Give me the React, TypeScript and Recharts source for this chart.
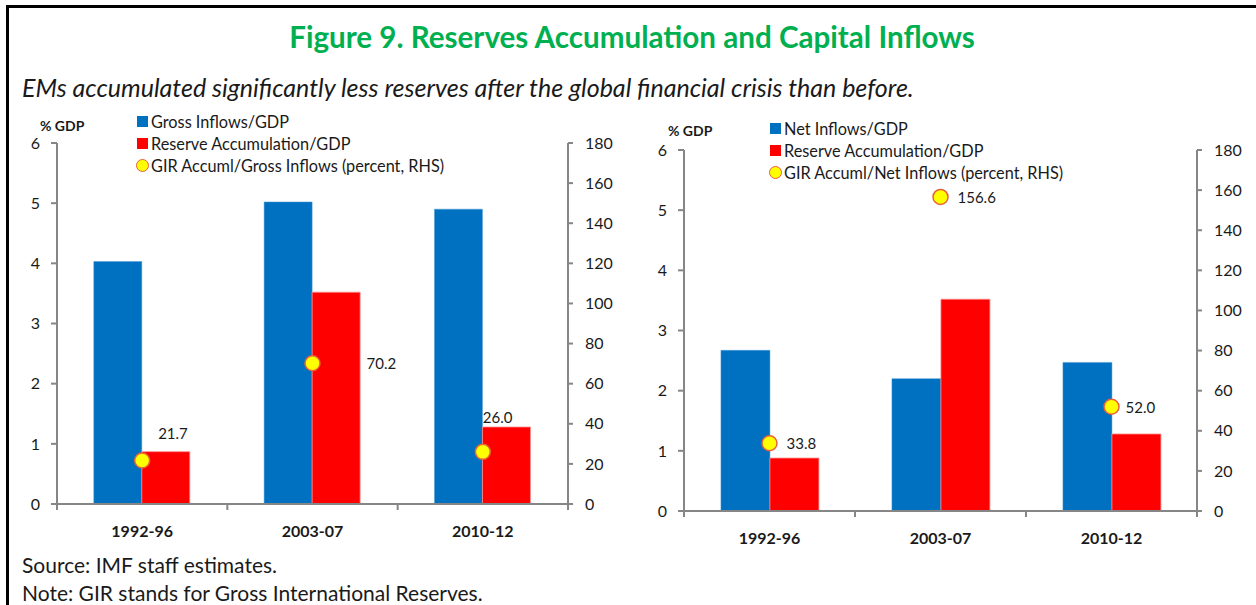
import { Bar, ComposedChart, Scatter, XAxis, YAxis } from "recharts";

const periods = ["1992-96", "2003-07", "2010-12"];

// left panel
const grossInflows = [4.03, 5.02, 4.9];
const reserveAccumGross = [0.87, 3.52, 1.28];
const girGross = [21.7, 70.2, 26.0];

// right panel
const netInflows = [2.67, 2.2, 2.47];
const reserveAccumNet = [0.88, 3.52, 1.28];
const girNet = [33.8, 156.6, 52.0];

const gdpTicks = [0, 1, 2, 3, 4, 5, 6];
const pctTicks = [0, 20, 40, 60, 80, 100, 120, 140, 160, 180];

const FONT = "Lato, 'Open Sans', sans-serif";
const BLUE = "#0070C0";
const RED = "#FF0000";
const AXIS = "#868686";
const TEXT = "#1a1a1a";

function LegendBox({ items, left, top }: { items: string[]; left: number; top: number }) {
  return (
    <div style={{ position: "absolute", left, top, fontFamily: FONT, fontSize: 16.3, color: TEXT }}>
      {items.map((name, i) => (
        <div key={name} style={{ display: "flex", alignItems: "center", height: 22, whiteSpace: "nowrap" }}>
          {i < 2 ? (
            <span style={{ width: 11, height: 11, background: i === 0 ? BLUE : RED, marginRight: 3 }} />
          ) : (
            <span
              style={{
                width: 13,
                height: 13,
                marginLeft: -1,
                borderRadius: "50%",
                background: "#FFFF00",
                border: "1.5px solid #E8603C",
                boxSizing: "border-box",
                marginRight: 2,
              }}
            />
          )}
          {name}
        </div>
      ))}
    </div>
  );
}

function Panel(props: {
  bars: number[];
  reserves: number[];
  ratio: number[];
  width: number;
  height: number;
  top: number;
  leftW: number;
  rightW: number;
  labelShift: number[][];
}) {
  const data = periods.map((p, i) => ({
    period: p,
    inflows: props.bars[i],
    reserves: props.reserves[i],
    ratio: props.ratio[i],
  }));
  const band = (props.width - props.leftW - props.rightW) / periods.length;

  const dot = (p: any) => {
    const i = periods.indexOf(p.payload.period);
    const [dx, dy] = props.labelShift[i];
    return (
      <g>
        <circle cx={p.cx} cy={p.cy} r={7.5} fill="#FFFF00" stroke="#E8603C" strokeWidth={1.5} />
        <text
          x={p.cx + dx}
          y={p.cy + dy}
          dominantBaseline="central"
          fontSize={15}
          fontFamily={FONT}
          fill={TEXT}
        >
          {p.payload.ratio.toFixed(1)}
        </text>
      </g>
    );
  };

  // category label plus tick marks on the category boundaries
  const catTick = (t: any) => {
    const last = t.index === periods.length - 1;
    return (
      <g>
        <line x1={t.x - band / 2} x2={t.x - band / 2} y1={t.y} y2={t.y + 6} stroke={AXIS} strokeWidth={2} />
        {last && <line x1={t.x + band / 2} x2={t.x + band / 2} y1={t.y} y2={t.y + 6} stroke={AXIS} strokeWidth={2} />}
        <text
          x={t.x}
          y={t.y + 26}
          textAnchor="middle"
          dominantBaseline="central"
          fontSize={16}
          fontWeight={700}
          fontFamily={FONT}
          fill={TEXT}
        >
          {t.payload.value}
        </text>
      </g>
    );
  };

  return (
    <ComposedChart
      width={props.width}
      height={props.height}
      data={data}
      margin={{ top: props.top, right: 0, bottom: 0, left: 0 }}
      barCategoryGap="21.6%"
      barGap={0}
    >
      <XAxis
        dataKey="period"
        height={44}
        stroke={AXIS}
        strokeWidth={2}
        tickLine={false}
        tickSize={0}
        tickMargin={0}
        tick={catTick}
        interval={0}
      />
      <YAxis
        yAxisId="left"
        width={props.leftW}
        domain={[0, 6]}
        ticks={gdpTicks}
        stroke={AXIS}
        strokeWidth={2}
        tickSize={6}
        tickMargin={11}
        tick={{ fontSize: 16, fontFamily: FONT, fill: TEXT }}
      />
      <YAxis
        yAxisId="right"
        orientation="right"
        width={props.rightW}
        domain={[0, 180]}
        ticks={pctTicks}
        stroke={AXIS}
        strokeWidth={2}
        tickSize={5}
        tickMargin={12}
        tick={{ fontSize: 16, fontFamily: FONT, fill: TEXT }}
      />
      <Bar yAxisId="left" dataKey="inflows" fill={BLUE} stroke="#4a9ad8" strokeWidth={0.5} isAnimationActive={false} />
      <Bar yAxisId="left" dataKey="reserves" fill={RED} stroke="#ff8c8c" strokeWidth={0.8} isAnimationActive={false} />
      <Scatter yAxisId="right" dataKey="ratio" shape={dot} isAnimationActive={false} />
    </ComposedChart>
  );
}

export default function App() {
  return (
    <div
      style={{
        position: "absolute",
        left: 0,
        top: 0,
        width: 1256,
        height: 605,
        background: "#fff",
        overflow: "hidden",
        fontFamily: FONT,
      }}
    >
      <div
        style={{
          position: "absolute",
          left: 6,
          top: 5,
          right: 0,
          bottom: 0,
          borderTop: "3px solid #000",
          borderLeft: "3px solid #000",
        }}
      />
      <div
        style={{
          position: "absolute",
          left: 0,
          width: 1264,
          top: 19,
          textAlign: "center",
          color: "#00B050",
          fontWeight: 700,
          fontSize: 29.6,
          lineHeight: "36px",
          whiteSpace: "nowrap",
        }}
      >
        Figure 9. Reserves Accumulation and Capital Inflows
      </div>
      <div
        style={{
          position: "absolute",
          left: 22,
          top: 71,
          fontStyle: "italic",
          fontSize: 25,
          lineHeight: "32px",
          color: TEXT,
          whiteSpace: "nowrap",
        }}
      >
        EMs accumulated significantly less reserves after the global financial crisis than before.
      </div>

      <div style={{ position: "absolute", left: 0, top: 110 }}>
        <Panel
          bars={grossInflows}
          reserves={reserveAccumGross}
          ratio={girGross}
          width={620}
          height={438}
          top={33}
          leftW={57}
          rightW={52}
          labelShift={[[16, -27], [54, 0], [0, -35]]}
        />
      </div>
      <div style={{ position: "absolute", left: 40, top: 117, fontSize: 14, fontWeight: 700, color: TEXT }}>% GDP</div>
      <LegendBox
        items={["Gross Inflows/GDP", "Reserve Accumulation/GDP", "GIR Accuml/Gross Inflows (percent, RHS)"]}
        left={137}
        top={110}
      />

      <div style={{ position: "absolute", left: 620, top: 110 }}>
        <Panel
          bars={netInflows}
          reserves={reserveAccumNet}
          ratio={girNet}
          width={636}
          height={445}
          top={40}
          leftW={64}
          rightW={59}
          labelShift={[[17, 0], [17, 0], [14, 0]]}
        />
      </div>
      <div style={{ position: "absolute", left: 668, top: 122, fontSize: 14, fontWeight: 700, color: TEXT }}>% GDP</div>
      <LegendBox
        items={["Net Inflows/GDP", "Reserve Accumulation/GDP", "GIR Accuml/Net Inflows (percent, RHS)"]}
        left={770}
        top={117}
      />

      <div style={{ position: "absolute", left: 22, top: 551, fontSize: 21, lineHeight: "28px", color: TEXT }}>
        Source: IMF staff estimates.
        <br />
        Note: GIR stands for Gross International Reserves.
      </div>
    </div>
  );
}
